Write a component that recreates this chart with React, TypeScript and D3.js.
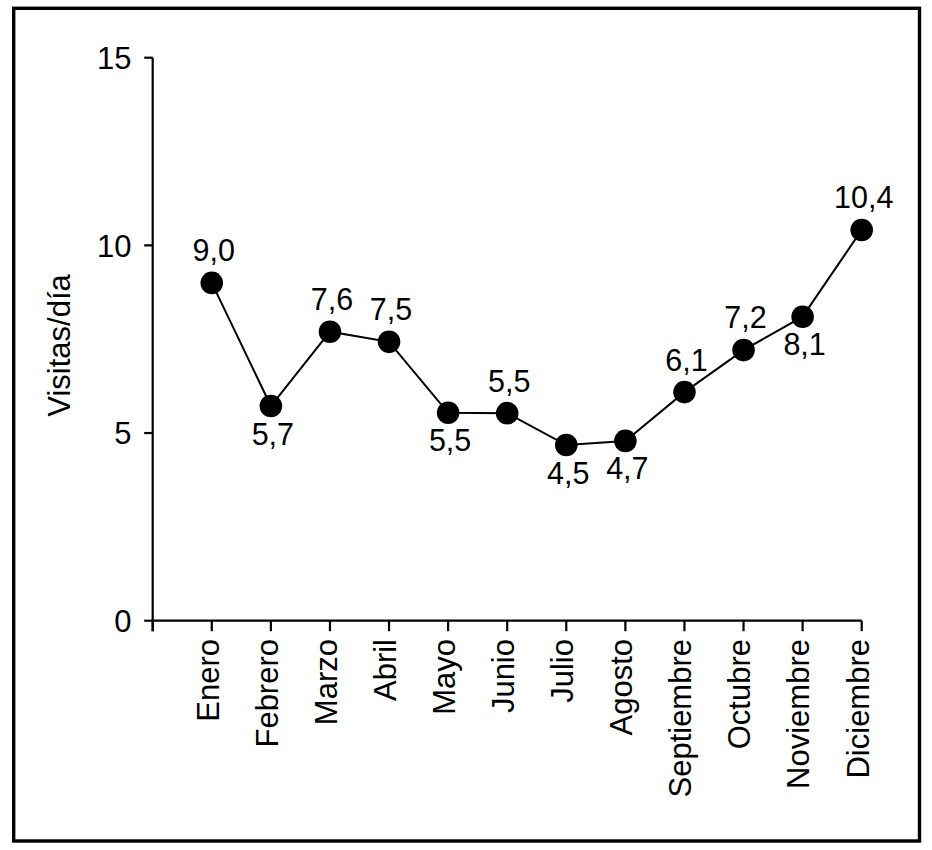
import React from "react";
import * as d3 from "d3";

const months = [
  "Enero", "Febrero", "Marzo", "Abril", "Mayo", "Junio",
  "Julio", "Agosto", "Septiembre", "Octubre", "Noviembre", "Diciembre",
];
// plotted positions
const visits = [9.0, 5.72, 7.7, 7.43, 5.54, 5.53, 4.68, 4.79, 6.09, 7.21, 8.1, 10.41];
// printed value labels
const valueLabels = ["9,0", "5,7", "7,6", "7,5", "5,5", "5,5", "4,5", "4,7", "6,1", "7,2", "8,1", "10,4"];
const labelBelow = [false, true, false, false, true, false, true, true, false, false, true, false];
const yTicks = [0, 5, 10, 15];

const W = 932;
const H = 850;
const FONT = "'Liberation Sans', Arial, Helvetica, sans-serif";

function LineChart() {
  // index -1 is the axis origin, months sit at 0..11
  const x = d3.scaleLinear().domain([-1, 11]).range([152.7, 861.7]);
  const y = d3.scaleLinear().domain([0, 15]).range([620.7, 57.7]);

  const line = d3
    .line<number>()
    .x((_, i) => x(i))
    .y((d) => y(d));

  const xTickIdx = d3.range(-1, 12);

  return (
    <svg
      width={W}
      height={H}
      style={{ position: "absolute", left: 0, top: 0, background: "#fff" }}
      fontFamily={FONT}
    >
      <rect x={13.7} y={8.3} width={905.8} height={832.7} fill="none" stroke="#000" strokeWidth={3.4} />

      {/* y axis */}
      <line x1={x(-1)} x2={x(-1)} y1={y(15)} y2={y(0) + 10.5} stroke="#000" strokeWidth={2.2} />
      {yTicks.map((t) => (
        <g key={t}>
          <line x1={x(-1) - 8.5} x2={x(-1)} y1={y(t)} y2={y(t)} stroke="#000" strokeWidth={2.2} />
          <text x={131.5} y={y(t)} dy="0.36em" textAnchor="end" fontSize={31}>
            {t}
          </text>
        </g>
      ))}
      <text transform={`translate(70,345.5) rotate(-90)`} textAnchor="middle" fontSize={31}>
        Visitas/día
      </text>

      {/* x axis */}
      <line x1={x(-1)} x2={x(11)} y1={y(0)} y2={y(0)} stroke="#000" strokeWidth={2.2} />
      {xTickIdx.map((i) => (
        <line key={i} x1={x(i)} x2={x(i)} y1={y(0)} y2={y(0) + 10.5} stroke="#000" strokeWidth={2.2} />
      ))}
      {months.map((m, i) => (
        <text
          key={m}
          transform={`translate(${x(i)},639) rotate(-90)`}
          textAnchor="end"
          dy="0.22em"
          fontSize={31}
        >
          {m}
        </text>
      ))}

      {/* series */}
      <path d={line(visits) ?? ""} fill="none" stroke="#000" strokeWidth={2} />
      {visits.map((v, i) => (
        <circle key={i} cx={x(i)} cy={y(v)} r={11.3} fill="#000" />
      ))}
      {visits.map((v, i) => (
        <text
          key={i}
          x={x(i) + 2}
          y={y(v) + (labelBelow[i] ? 38.5 : -21.6)}
          textAnchor="middle"
          fontSize={30.5}
        >
          {valueLabels[i]}
        </text>
      ))}
    </svg>
  );
}

export default function App() {
  return <LineChart />;
}
